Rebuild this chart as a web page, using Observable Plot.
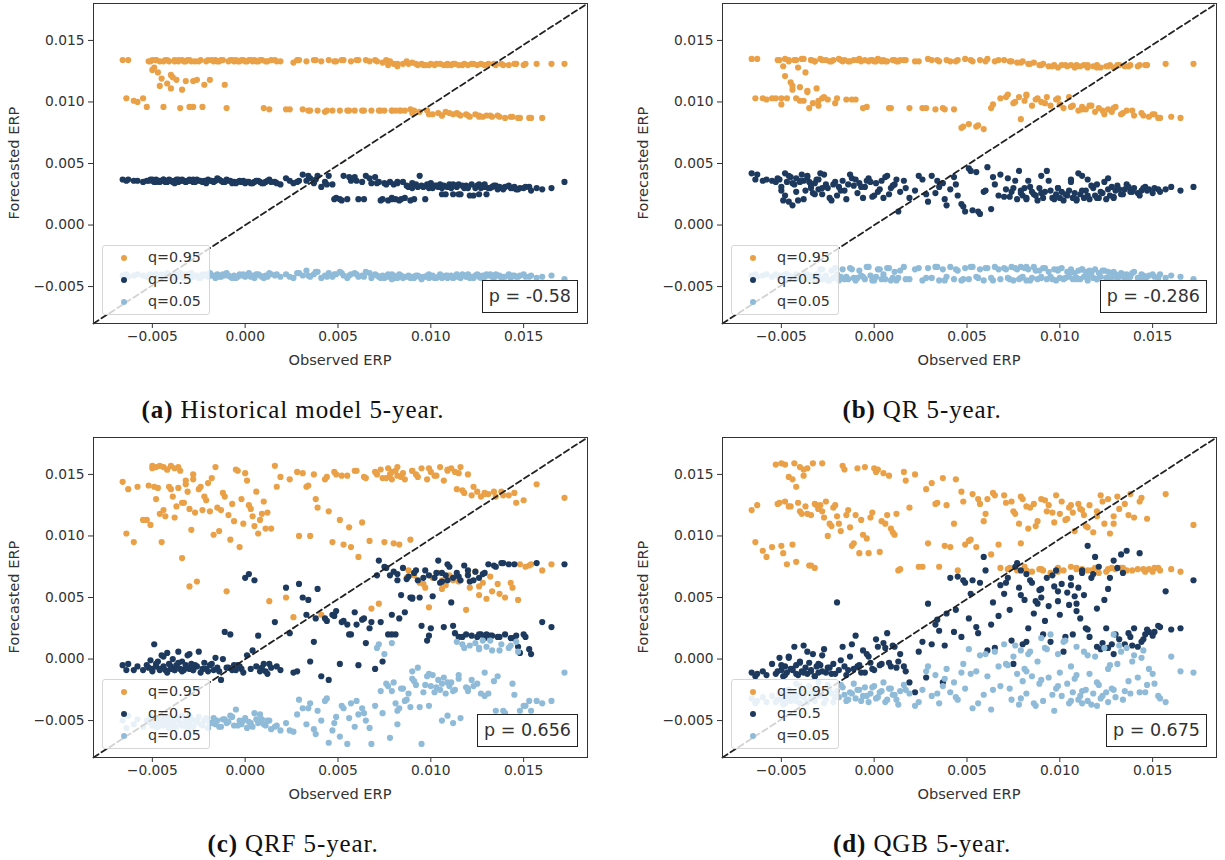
<!DOCTYPE html>
<html><head><meta charset="utf-8">
<script src="https://cdn.jsdelivr.net/npm/d3@7"></script>
<script src="https://cdn.jsdelivr.net/npm/@observablehq/plot@0.6"></script>
<style>
body{margin:0;background:#fff;width:1225px;height:860px;position:relative;overflow:hidden;font-family:"DejaVu Sans",sans-serif;}
.panel{position:absolute;width:600px;height:430px;}
.panel svg{position:absolute;left:0;top:0;overflow:visible;}
.panel svg text{font-family:"DejaVu Sans",sans-serif !important;font-size:13.8px !important;fill:#333;}
.axlab{position:absolute;font-size:14.6px;color:#333;white-space:nowrap;transform:translate(-50%,-50%);}
.ylab{transform:translate(-50%,-50%) rotate(-90deg);}
.legend{position:absolute;left:102px;top:245px;width:106px;height:68px;border:1px solid #d6d6d6;border-radius:3px;background:rgba(255,255,255,0.8);}
.legend .row{position:absolute;left:0;height:20px;width:100%;}
.legend .mk{position:absolute;left:18px;top:7px;width:6px;height:6px;border-radius:50%;}
.legend .tx{position:absolute;left:45px;top:0px;font-size:14.3px;color:#333;line-height:19px;}
.pbox{position:absolute;top:280px;height:31px;border:1.3px solid #222;background:#fff;font-size:17.5px;line-height:31px;padding:0 6px;color:#333;}
.caption{position:absolute;font-family:"Liberation Serif",serif;font-size:25px;letter-spacing:0.9px;color:#111;white-space:nowrap;transform:translate(-50%,-50%);}
#err{position:absolute;left:0;top:0;color:red;font-size:10px;}
</style></head><body>
<div id="err"></div>
<script>
// Observed ERP (shared by all panels)
const obsERP = [
-.0066,-.0064,-.0063,-.0060,-.0058,
-.0055,-.0053,-.0051,-.0050,-.0049,-.0048,-.0047,-.0046,-.0045,
-.0044,-.0043,-.0042,-.0041,-.0040,-.0039,-.0038,-.0037,-.0036,-.0035,-.0034,-.0033,-.0032,-.0031,-.0030,
-.0029,-.0028,-.0026,-.0025,-.0023,-.0022,-.0020,-.0019,-.0017,-.0016,-.0015,
-.0013,-.0011,-.0010,-.0008,-.0006,-.0005,-.0003,-.0002,.0000,
.0002,.0004,.0005,.0007,.0009,.0011,.0013,
.0016,.0019,.0022,.0026,.0029,
.0031,.0033,.0035,.0037,.0039,.0041,.0043,.0045,.0047,.0049,
.0051,.0053,.0055,.0057,.0059,.0061,.0063,.0065,.0068,
.0070,.0072,.0074,.0075,.0077,.0078,.0079,.0080,.0081,.0082,.0083,.0085,.0086,.0088,.0089,
.0090,.0091,.0093,.0094,.0095,.0097,.0098,.0099,.0100,.0101,.0102,.0104,.0105,.0106,.0107,.0108,.0109,.0110,
.0111,.0112,.0113,.0114,.0115,.0116,.0118,.0119,.0120,.0121,.0122,.0124,.0125,.0126,.0127,.0128,.0129,.0130,
.0131,.0133,.0135,.0136,.0138,.0140,.0142,.0144,.0146,.0148,
.0151,.0154,.0157,.0160,.0165,.0172,
// second batch
-.0052,-.0050,-.0048,-.0046,-.0044,-.0042,-.0040,-.0038,-.0036,-.0034,-.0032,-.0030,-.0028,-.0027,-.0024,
-.0021,-.0018,-.0014,-.0012,-.0009,-.0007,-.0004,-.0001,.0001,.0003,.0006,.0008,.0010,.0012,.0014,
.0017,.0024,.0028,.0034,.0038,.0044,.0048,.0052,.0056,.0060,.0064,.0067,
.0071,.0073,.0076,.0079,.0082,.0084,.0087,.0090,.0092,.0096,.0099,.0103,.0106,.0109,.0112,
.0115,.0117,.0120,.0123,.0126,.0129,.0132,.0134,.0137,.0139,.0143,.0145,.0147,.0150,.0153];

// (a) Historical model
const histQ95 = [
.0134,.0103,.0134,.0101,.0100,
.0103,.0096,.0133,.0134,.0128,.0134,.0124,.0133,.0119,
.0096,.0134,.0115,.0133,.0111,.0120,.0134,.0118,.0133,.0095,.0134,.0133,.0117,.0134,.0096,
.0133,.0117,.0118,.0133,.0096,.0114,.0134,.0118,.0133,.0134,.0133,
.0134,.0114,.0095,.0134,.0133,.0134,.0133,.0134,.0133,
.0134,.0133,.0134,.0133,.0134,.0133,.0094,
.0134,.0133,.0094,.0132,.0134,
.0094,.0133,.0093,.0134,.0093,.0133,.0092,.0134,.0093,.0133,
.0093,.0134,.0093,.0133,.0093,.0134,.0093,.0134,.0093,
.0134,.0093,.0132,.0093,.0130,.0133,.0093,.0131,.0093,.0129,.0093,.0131,.0093,.0131,.0094,
.0132,.0093,.0130,.0092,.0131,.0130,.0093,.0130,.0131,.0090,.0130,.0091,.0131,.0089,.0130,.0092,.0131,.0091,
.0130,.0090,.0131,.0091,.0130,.0089,.0131,.0090,.0130,.0088,.0131,.0090,.0130,.0089,.0131,.0088,.0130,.0089,
.0131,.0088,.0130,.0089,.0131,.0087,.0130,.0088,.0131,.0087,
.0131,.0087,.0131,.0087,.0131,.0131,
.0133,.0126,.0134,.0113,.0133,.0134,.0122,.0133,.0134,.0110,.0133,.0134,.0096,.0133,.0134,
.0133,.0134,.0133,.0134,.0133,.0134,.0133,.0134,.0133,.0134,.0133,.0134,.0095,.0133,.0134,
.0133,.0094,.0134,.0093,.0134,.0093,.0133,.0134,.0093,.0134,.0093,.0133,
.0133,.0093,.0134,.0093,.0131,.0093,.0133,.0091,.0131,.0130,.0090,.0131,.0089,.0130,.0131,
.0090,.0130,.0089,.0131,.0088,.0130,.0089,.0131,.0088,.0130,.0088,.0131,.0087,.0130,.0087];
const histQ50 = [
.0037,.0036,.0037,.0036,.0036,
.0035,.0036,.0037,.0036,.0035,.0037,.0036,.0035,.0036,
.0037,.0035,.0036,.0037,.0036,.0035,.0036,.0037,.0035,.0036,.0037,.0036,.0035,.0036,.0037,
.0036,.0035,.0037,.0036,.0035,.0036,.0037,.0036,.0035,.0036,.0038,
.0036,.0035,.0037,.0036,.0035,.0034,.0036,.0035,.0034,
.0035,.0034,.0035,.0036,.0034,.0035,.0037,
.0035,.0033,.0038,.0034,.0036,
.0041,.0036,.0038,.0034,.0040,.0031,.0035,.0040,.0033,.0022,
.0021,.0040,.0021,.0036,.0039,.0021,.0035,.0040,.0034,
.0039,.0035,.0021,.0034,.0020,.0035,.0022,.0033,.0021,.0034,.0020,.0035,.0022,.0031,.0020,
.0034,.0021,.0031,.0040,.0032,.0021,.0033,.0031,.0034,.0030,.0032,.0031,.0033,.0030,.0032,.0025,.0031,.0033,
.0030,.0025,.0032,.0031,.0033,.0025,.0030,.0032,.0031,.0024,.0033,.0030,.0032,.0025,.0030,.0031,.0033,.0025,
.0030,.0031,.0032,.0029,.0030,.0031,.0032,.0030,.0029,.0030,
.0031,.0028,.0030,.0029,.0030,.0035,
.0036,.0037,.0035,.0036,.0037,.0035,.0036,.0034,.0037,.0036,.0035,.0036,.0037,.0035,.0036,
.0034,.0036,.0037,.0035,.0036,.0034,.0035,.0036,.0035,.0034,.0036,.0035,.0034,.0036,.0035,
.0034,.0036,.0035,.0040,.0037,.0033,.0021,.0020,.0039,.0036,.0021,.0038,
.0034,.0020,.0033,.0021,.0035,.0021,.0032,.0030,.0033,.0031,.0030,.0032,.0025,.0031,.0033,
.0025,.0032,.0030,.0024,.0033,.0031,.0030,.0032,.0031,.0029,.0030,.0031,.0029,.0030,.0031];
const histQ05 = [
-.0041,-.0040,-.0042,-.0041,-.0040,
-.0041,-.0042,-.0040,-.0041,-.0043,-.0040,-.0042,-.0041,-.0040,
-.0042,-.0041,-.0039,-.0042,-.0041,-.0043,-.0040,-.0041,-.0042,-.0039,-.0041,-.0043,-.0040,-.0042,-.0041,
-.0039,-.0042,-.0041,-.0043,-.0040,-.0041,-.0042,-.0039,-.0041,-.0043,-.0040,
-.0042,-.0041,-.0039,-.0042,-.0041,-.0043,-.0040,-.0041,-.0042,
-.0039,-.0041,-.0043,-.0040,-.0042,-.0041,-.0039,
-.0041,-.0042,-.0040,-.0043,-.0039,
-.0041,-.0037,-.0042,-.0040,-.0038,-.0043,-.0041,-.0039,-.0042,-.0040,
-.0038,-.0041,-.0043,-.0040,-.0039,-.0042,-.0041,-.0038,-.0043,
-.0040,-.0042,-.0041,-.0043,-.0040,-.0042,-.0044,-.0041,-.0043,-.0042,-.0040,-.0043,-.0042,-.0041,-.0043,
-.0042,-.0043,-.0041,-.0042,-.0044,-.0042,-.0041,-.0043,-.0042,-.0041,-.0043,-.0042,-.0040,-.0043,-.0042,-.0041,-.0043,-.0042,
-.0041,-.0043,-.0042,-.0040,-.0042,-.0043,-.0041,-.0042,-.0040,-.0043,-.0042,-.0041,-.0040,-.0042,-.0043,-.0041,-.0042,-.0040,
-.0041,-.0042,-.0040,-.0041,-.0043,-.0042,-.0040,-.0041,-.0042,-.0041,
-.0042,-.0041,-.0043,-.0042,-.0041,-.0044,
-.0041,-.0042,-.0040,-.0041,-.0042,-.0040,-.0041,-.0043,-.0040,-.0042,-.0041,-.0040,-.0042,-.0041,-.0043,
-.0040,-.0041,-.0042,-.0040,-.0041,-.0043,-.0042,-.0040,-.0041,-.0042,-.0040,-.0041,-.0043,-.0042,-.0040,
-.0040,-.0042,-.0039,-.0041,-.0038,-.0042,-.0040,-.0039,-.0041,-.0040,-.0042,-.0039,
-.0041,-.0043,-.0042,-.0040,-.0043,-.0041,-.0042,-.0043,-.0041,-.0042,-.0040,-.0043,-.0042,-.0041,-.0043,
-.0042,-.0040,-.0042,-.0043,-.0041,-.0042,-.0040,-.0043,-.0041,-.0042,-.0043,-.0041,-.0042,-.0040,-.0042];

// (b) QR
const qrQ95 = [
.0135,.0103,.0135,.0103,.0102,
.0103,.0103,.0134,.0098,.0129,.0135,.0103,.0133,.0116,
.0110,.0134,.0103,.0128,.0112,.0135,.0101,.0124,.0109,.0095,.0134,.0099,.0133,.0111,.0101,
.0135,.0103,.0134,.0102,.0133,.0134,.0103,.0135,.0133,.0134,.0102,
.0133,.0134,.0102,.0135,.0095,.0134,.0133,.0134,.0133,
.0135,.0133,.0134,.0133,.0095,.0134,.0133,
.0134,.0095,.0133,.0095,.0135,
.0134,.0094,.0133,.0095,.0134,.0133,.0094,.0134,.0079,.0135,
.0082,.0133,.0080,.0134,.0078,.0135,.0095,.0133,.0103,
.0134,.0106,.0133,.0099,.0132,.0104,.0086,.0133,.0101,.0106,.0131,.0097,.0132,.0103,.0130,
.0100,.0131,.0104,.0129,.0097,.0130,.0102,.0128,.0098,.0130,.0095,.0129,.0104,.0130,.0097,.0128,.0130,.0093,
.0129,.0096,.0130,.0094,.0128,.0097,.0129,.0092,.0130,.0095,.0128,.0090,.0129,.0094,.0130,.0092,.0128,.0096,
.0130,.0090,.0129,.0093,.0130,.0089,.0129,.0091,.0130,.0088,
.0090,.0087,.0131,.0088,.0087,.0131,
.0134,.0103,.0121,.0134,.0113,.0134,.0101,.0135,.0108,.0134,.0133,.0097,.0134,.0104,.0133,
.0099,.0134,.0133,.0102,.0134,.0133,.0096,.0134,.0133,.0134,.0133,.0095,.0134,.0133,.0134,
.0134,.0133,.0095,.0134,.0094,.0133,.0080,.0134,.0081,.0133,.0098,.0134,
.0104,.0133,.0100,.0132,.0105,.0131,.0102,.0130,.0099,.0129,.0103,.0130,.0096,.0129,.0094,
.0130,.0097,.0128,.0093,.0129,.0095,.0130,.0091,.0129,.0093,.0130,.0089,.0130,.0090,.0087];
const qrQ50 = [
.0042,.0037,.0041,.0036,.0037,
.0036,.0035,.0037,.0028,.0020,.0042,.0035,.0019,.0039,
.0016,.0033,.0038,.0020,.0035,.0041,.0036,.0028,.0040,.0035,.0030,.0026,.0034,.0037,.0029,
.0042,.0025,.0033,.0030,.0020,.0033,.0024,.0031,.0036,.0028,.0021,
.0041,.0032,.0037,.0034,.0022,.0031,.0038,.0035,.0024,
.0027,.0036,.0022,.0040,.0030,.0033,.0011,
.0036,.0022,.0028,.0037,.0019,
.0040,.0026,.0031,.0034,.0016,.0029,.0039,.0024,.0017,.0011,
.0046,.0012,.0043,.0009,.0027,.0047,.0013,.0033,.0041,
.0023,.0038,.0027,.0030,.0021,.0044,.0028,.0024,.0030,.0022,.0036,.0027,.0025,.0020,.0030,
.0026,.0022,.0044,.0036,.0028,.0021,.0025,.0030,.0022,.0027,.0020,.0024,.0028,.0035,.0022,.0026,.0020,.0042,
.0025,.0040,.0022,.0028,.0037,.0021,.0030,.0024,.0033,.0022,.0027,.0035,.0021,.0029,.0024,.0031,.0022,.0028,
.0032,.0025,.0029,.0033,.0027,.0030,.0026,.0028,.0031,.0029,
.0030,.0027,.0029,.0031,.0028,.0031,
.0038,.0031,.0024,.0040,.0034,.0027,.0036,.0021,.0039,.0032,.0025,.0037,.0030,.0041,.0022,
.0035,.0028,.0033,.0038,.0026,.0031,.0036,.0023,.0034,.0029,.0039,.0025,.0032,.0037,.0027,
.0030,.0040,.0025,.0036,.0021,.0033,.0015,.0044,.0011,.0028,.0039,.0024,
.0029,.0023,.0036,.0026,.0021,.0031,.0024,.0040,.0027,.0022,.0030,.0025,.0037,.0021,.0028,
.0024,.0032,.0022,.0026,.0038,.0023,.0029,.0025,.0031,.0027,.0024,.0030,.0028,.0026,.0029];
const qrQ05 = [
-.0041,-.0040,-.0042,-.0041,-.0040,
-.0042,-.0040,-.0043,-.0041,-.0042,-.0044,-.0040,-.0041,-.0043,
-.0042,-.0044,-.0040,-.0043,-.0041,-.0045,-.0042,-.0040,-.0044,-.0043,-.0041,-.0042,-.0045,-.0040,-.0043,
-.0036,-.0044,-.0041,-.0045,-.0037,-.0043,-.0040,-.0045,-.0036,-.0044,-.0042,
-.0035,-.0043,-.0045,-.0037,-.0042,-.0044,-.0034,-.0041,-.0045,
-.0036,-.0044,-.0040,-.0035,-.0045,-.0038,-.0043,
-.0034,-.0044,-.0036,-.0045,-.0035,
-.0043,-.0034,-.0045,-.0036,-.0042,-.0034,-.0044,-.0037,-.0045,-.0035,
-.0044,-.0034,-.0042,-.0036,-.0045,-.0035,-.0043,-.0034,-.0044,
-.0035,-.0043,-.0034,-.0045,-.0036,-.0044,-.0034,-.0042,-.0035,-.0045,-.0036,-.0043,-.0034,-.0044,-.0037,
-.0043,-.0035,-.0044,-.0038,-.0042,-.0036,-.0045,-.0037,-.0043,-.0035,-.0044,-.0038,-.0042,-.0036,-.0044,-.0039,-.0043,-.0037,
-.0044,-.0036,-.0042,-.0038,-.0045,-.0037,-.0043,-.0036,-.0044,-.0039,-.0042,-.0037,-.0043,-.0038,-.0044,-.0039,-.0042,-.0040,
-.0043,-.0039,-.0044,-.0040,-.0042,-.0038,-.0043,-.0040,-.0044,-.0041,
-.0042,-.0040,-.0043,-.0041,-.0042,-.0044,
-.0041,-.0043,-.0040,-.0044,-.0042,-.0041,-.0043,-.0045,-.0040,-.0042,-.0044,-.0041,-.0036,-.0043,-.0045,
-.0035,-.0042,-.0044,-.0036,-.0043,-.0041,-.0034,-.0045,-.0042,-.0036,-.0044,-.0035,-.0043,-.0045,-.0037,
-.0044,-.0035,-.0043,-.0034,-.0045,-.0036,-.0044,-.0034,-.0043,-.0035,-.0045,-.0036,
-.0036,-.0044,-.0035,-.0043,-.0034,-.0045,-.0037,-.0042,-.0035,-.0044,-.0036,-.0043,-.0038,-.0044,-.0036,
-.0042,-.0039,-.0044,-.0037,-.0043,-.0038,-.0042,-.0040,-.0044,-.0039,-.0043,-.0041,-.0042,-.0040,-.0043];

// (c) QRF
const qrfQ95 = [
.0144,.0102,.0138,.0095,.0140,
.0113,.0113,.0109,.0157,.0140,.0156,.0139,.0118,.0095,
.0156,.0116,.0154,.0140,.0157,.0132,.0155,.0124,.0139,.0153,.0082,.0127,.0145,.0136,.0059,
.0105,.0146,.0063,.0138,.0121,.0132,.0143,.0120,.0101,.0156,.0123,
.0121,.0132,.0055,.0097,.0112,.0154,.0091,.0130,.0151,
.0125,.0116,.0108,.0102,.0118,.0106,.0047,
.0157,.0148,.0050,.0034,.0100,
.0151,.0140,.0100,.0150,.0123,.0036,.0146,.0120,.0095,.0150,
.0113,.0093,.0149,.0091,.0153,.0083,.0111,.0147,.0041,
.0152,.0045,.0147,.0095,.0155,.0150,.0146,.0094,.0153,.0149,.0093,.0151,.0146,.0072,.0097,
.0153,.0068,.0148,.0062,.0155,.0058,.0146,.0042,.0152,.0066,.0149,.0070,.0156,.0064,.0145,.0060,.0153,.0068,
.0155,.0066,.0152,.0138,.0063,.0156,.0135,.0040,.0150,.0058,.0133,.0071,.0136,.0052,.0132,.0062,.0135,.0049,
.0134,.0055,.0132,.0061,.0136,.0050,.0133,.0058,.0127,.0077,
.0075,.0077,.0142,.0072,.0077,.0131,
.0141,.0155,.0130,.0157,.0121,.0154,.0138,.0115,.0156,.0127,.0142,.0122,.0150,.0119,.0140,
.0129,.0147,.0104,.0135,.0117,.0126,.0153,.0110,.0145,.0122,.0136,.0113,.0128,.0119,.0106,
.0140,.0146,.0152,.0141,.0130,.0148,.0152,.0149,.0107,.0153,.0148,.0096,
.0150,.0154,.0147,.0152,.0156,.0148,.0066,.0153,.0150,.0061,.0155,.0149,.0057,.0154,.0064,
.0151,.0137,.0069,.0140,.0059,.0134,.0067,.0136,.0053,.0133,.0062,.0135,.0048,.0129,.0076];
const qrfQ50 = [
-.0005,-.0009,-.0004,-.0009,-.0006,
-.0009,-.0005,-.0001,-.0008,.0012,-.0006,-.0002,-.0009,.0003,
-.0006,-.0009,.0005,-.0004,-.0008,.0000,-.0009,-.0005,.0006,-.0008,-.0002,-.0009,-.0005,.0003,-.0008,
-.0004,-.0009,-.0006,.0006,-.0008,-.0003,-.0010,-.0005,-.0009,.0001,-.0007,
-.0017,.0022,-.0007,.0020,-.0005,-.0009,-.0006,-.0008,.0066,
.0069,.0007,.0064,.0019,-.0007,-.0010,-.0004,
.0030,-.0009,.0058,-.0011,.0061,
.0050,.0036,-.0002,.0014,.0057,-.0014,.0033,-.0017,.0036,.0039,
-.0004,.0031,.0028,.0020,.0038,-.0005,.0032,.0013,.0030,
-.0008,.0080,-.0002,.0075,.0020,.0068,.0036,.0071,.0020,.0064,.0033,.0074,.0038,.0067,.0050,
.0049,.0070,.0064,.0050,.0027,.0072,.0015,.0068,.0025,.0051,.0066,.0080,.0062,.0070,.0026,.0068,.0064,.0075,
.0046,.0066,.0021,.0070,.0018,.0064,.0076,.0020,.0068,.0063,.0019,.0071,.0018,.0066,.0020,.0069,.0017,.0020,
.0077,.0019,.0075,.0018,.0078,.0020,.0077,.0017,.0019,.0005,
.0018,.0004,.0078,.0030,.0026,.0077,
-.0007,-.0010,-.0004,-.0008,.0002,-.0011,-.0006,-.0009,-.0003,-.0010,-.0007,.0004,-.0009,-.0005,-.0011,
-.0008,-.0004,-.0010,.0000,-.0007,-.0009,-.0005,-.0011,.0003,-.0008,-.0006,-.0010,-.0004,-.0012,-.0007,
-.0006,.0021,-.0010,.0048,.0033,.0031,.0035,.0030,.0020,.0028,.0033,.0025,
.0068,.0030,.0074,.0020,.0069,.0052,.0065,.0050,.0072,.0066,.0019,.0070,.0063,.0077,.0027,
.0067,.0018,.0072,.0064,.0020,.0070,.0019,.0076,.0018,.0078,.0017,.0077,.0010,.0020,.0008];
const qrfQ05 = [
-.0050,-.0056,-.0046,-.0053,-.0049,
-.0055,-.0050,-.0047,-.0054,-.0051,-.0048,-.0055,-.0052,-.0049,
-.0054,-.0047,-.0051,-.0056,-.0049,-.0053,-.0050,-.0055,-.0048,-.0052,-.0046,-.0054,-.0050,-.0056,-.0052,
-.0049,-.0055,-.0051,-.0047,-.0054,-.0050,-.0056,-.0052,-.0048,-.0053,-.0050,
-.0055,-.0049,-.0052,-.0046,-.0054,-.0041,-.0050,-.0053,-.0048,
-.0051,-.0055,-.0044,-.0052,-.0049,-.0054,-.0050,
-.0055,-.0058,-.0052,-.0059,-.0033,
-.0040,-.0053,-.0036,-.0057,-.0042,-.0050,-.0034,-.0068,-.0058,-.0047,
-.0063,-.0040,-.0069,-.0036,-.0055,-.0045,-.0040,-.0050,-.0069,
-.0038,.0012,-.0044,.0004,-.0022,-.0064,-.0026,-.0019,-.0036,-.0053,-.0040,-.0024,-.0034,-.0028,-.0039,
-.0010,-.0018,-.0007,-.0039,-.0069,-.0021,-.0014,-.0038,-.0022,-.0013,-.0027,-.0017,-.0025,-.0020,-.0015,-.0028,-.0046,-.0022,
-.0019,-.0052,-.0025,.0014,-.0013,-.0048,.0009,-.0023,-.0026,.0011,-.0017,.0013,-.0020,.0008,-.0028,.0015,-.0011,.0010,
-.0028,.0007,-.0042,-.0014,.0012,-.0044,.0009,-.0020,.0014,-.0042,
-.0038,-.0042,-.0034,-.0036,-.0034,-.0011,
-.0051,-.0048,-.0055,-.0050,-.0053,-.0047,-.0052,-.0056,-.0049,-.0054,-.0051,-.0046,-.0055,-.0050,-.0053,
-.0048,-.0052,-.0055,-.0049,-.0051,-.0047,-.0054,-.0050,-.0056,-.0052,-.0049,-.0045,-.0053,-.0050,-.0057,
-.0054,-.0058,-.0045,-.0040,-.0061,-.0032,-.0052,-.0038,-.0048,-.0034,-.0044,-.0056,
.0009,-.0026,-.0020,.0013,-.0042,-.0024,-.0033,-.0016,-.0021,-.0027,-.0012,-.0023,-.0050,-.0019,-.0026,
-.0016,.0012,-.0024,-.0022,.0009,-.0030,.0015,-.0018,.0007,-.0042,.0011,-.0029,.0006,-.0038,-.0034];

// (d) QGB
const qgbQ95 = [
.0121,.0095,.0125,.0088,.0083,
.0091,.0158,.0127,.0159,.0086,.0128,.0077,.0148,.0124,
.0093,.0159,.0140,.0127,.0156,.0118,.0149,.0124,.0155,.0076,.0117,.0159,.0074,.0125,.0122,
.0125,.0120,.0128,.0100,.0108,.0123,.0116,.0110,.0157,.0154,.0117,
.0107,.0094,.0117,.0086,.0101,.0156,.0086,.0115,.0155,
.0154,.0112,.0151,.0117,.0106,.0101,.0072,
.0152,.0123,.0150,.0075,.0094,
.0143,.0126,.0075,.0147,.0125,.0091,.0110,.0072,.0136,.0093,
.0096,.0134,.0091,.0126,.0112,.0130,.0085,.0133,.0074,
.0133,.0073,.0128,.0120,.0072,.0110,.0094,.0130,.0075,.0124,.0106,.0071,.0126,.0112,.0073,
.0130,.0072,.0120,.0125,.0070,.0111,.0133,.0074,.0118,.0128,.0072,.0114,.0123,.0075,.0119,.0104,.0073,.0126,
.0122,.0073,.0117,.0108,.0072,.0125,.0103,.0074,.0120,.0070,.0133,.0110,.0071,.0130,.0102,.0074,.0116,.0073,
.0132,.0074,.0126,.0072,.0134,.0115,.0073,.0131,.0071,.0073,
.0074,.0072,.0134,.0073,.0071,.0109,
.0126,.0092,.0158,.0124,.0146,.0079,.0120,.0154,.0118,.0076,.0126,.0122,.0159,.0115,.0110,
.0125,.0104,.0121,.0092,.0155,.0113,.0098,.0119,.0152,.0087,.0110,.0149,.0103,.0118,.0073,
.0145,.0075,.0138,.0127,.0092,.0146,.0128,.0097,.0130,.0118,.0135,.0093,
.0127,.0074,.0118,.0132,.0072,.0123,.0108,.0073,.0129,.0119,.0071,.0113,.0125,.0074,.0121,
.0107,.0072,.0116,.0128,.0073,.0110,.0122,.0074,.0117,.0072,.0128,.0073,.0114,.0071,.0074];
const qgbQ50 = [
-.0011,-.0014,-.0012,-.0010,-.0013,
-.0004,-.0012,.0001,-.0009,-.0014,-.0006,-.0011,.0002,-.0008,
-.0009,.0010,-.0005,-.0013,-.0002,-.0010,.0011,-.0007,-.0012,-.0003,-.0010,.0004,-.0014,-.0006,-.0011,
-.0005,.0003,-.0011,-.0007,-.0012,-.0004,.0046,-.0009,.0010,-.0006,-.0013,
.0002,-.0008,.0019,-.0005,.0007,-.0011,.0002,-.0003,-.0009,
.0010,-.0004,.0013,.0021,-.0006,.0010,-.0002,
-.0006,-.0019,-.0027,.0014,.0045,
.0012,.0028,.0023,-.0019,.0037,.0066,.0022,.0067,.0018,.0062,
.0033,.0064,.0026,.0062,.0083,.0007,.0028,.0009,.0060,
.0053,.0066,.0015,-.0004,.0078,.0058,.0072,.0012,.0048,.0069,.0025,.0062,.0037,.0045,.0056,
.0050,.0020,.0066,.0043,.0014,.0059,.0072,.0047,.0036,.0061,.0006,.0054,.0044,.0066,.0020,.0051,.0039,.0058,
.0033,.0070,.0052,.0025,.0092,.0018,.0069,.0083,.0010,.0075,.0008,.0048,.0025,.0009,.0066,.0012,.0004,.0020,
.0074,.0085,.0012,.0088,.0018,.0025,.0010,.0014,.0020,.0022,
.0022,.0026,.0055,.0024,.0025,.0064,
-.0010,-.0005,-.0013,.0001,-.0008,-.0012,-.0003,-.0011,.0006,-.0009,-.0014,-.0004,-.0010,.0008,-.0007,
-.0012,-.0001,-.0009,.0012,-.0006,-.0011,.0004,-.0008,.0016,-.0005,.0009,-.0003,.0011,-.0007,.0004,
-.0010,.0006,-.0015,.0032,.0011,.0040,.0064,.0053,.0021,.0072,.0046,.0035,
.0062,.0040,.0075,.0052,.0014,.0064,.0047,.0057,.0031,.0068,.0055,.0018,.0060,.0045,.0072,
.0024,.0066,.0041,.0013,.0057,.0080,.0016,.0070,.0021,.0011,.0086,.0016,.0024,.0019,.0027];
const qgbQ05 = [
-.0032,-.0036,-.0034,-.0031,-.0035,
-.0030,-.0035,-.0028,-.0033,-.0037,-.0026,-.0032,-.0029,-.0034,
-.0027,-.0033,-.0020,-.0030,-.0036,-.0024,-.0031,-.0028,-.0035,-.0022,-.0032,-.0026,-.0034,-.0029,-.0019,
-.0030,-.0025,-.0033,-.0021,-.0028,-.0035,-.0026,-.0031,-.0023,-.0029,-.0034,
-.0027,-.0020,-.0032,-.0025,-.0030,-.0023,-.0035,-.0028,-.0022,
-.0031,-.0026,-.0019,-.0033,-.0024,-.0029,-.0037,
-.0021,-.0028,-.0038,-.0025,-.0006,
-.0030,-.0013,-.0036,-.0022,-.0008,-.0027,-.0019,-.0033,-.0011,-.0024,
.0008,-.0040,-.0010,.0003,-.0029,-.0014,-.0041,.0006,-.0022,
.0012,-.0005,-.0033,.0002,-.0012,-.0037,.0007,-.0018,-.0008,-.0028,.0004,-.0014,-.0036,-.0002,-.0020,
.0017,-.0034,.0008,-.0015,.0020,-.0042,-.0024,.0004,-.0011,-.0030,.0014,-.0020,-.0036,-.0006,-.0027,-.0016,.0010,-.0033,
-.0030,-.0036,.0006,-.0025,-.0034,-.0012,-.0028,.0002,-.0038,-.0021,-.0032,.0009,-.0027,-.0035,-.0005,-.0024,.0020,-.0031,
-.0004,.0006,-.0026,.0009,-.0028,.0003,-.0015,.0001,-.0027,-.0008,
-.0020,-.0032,-.0035,.0002,-.0010,-.0011,
-.0033,-.0028,-.0036,-.0025,-.0031,-.0034,-.0022,-.0030,-.0035,-.0027,-.0032,-.0024,-.0029,-.0036,-.0026,
-.0031,-.0021,-.0033,-.0028,-.0025,-.0034,-.0030,-.0023,-.0032,-.0027,-.0035,-.0024,-.0029,-.0033,-.0026,
-.0025,-.0035,-.0010,-.0028,-.0016,-.0031,-.0004,-.0012,-.0036,.0004,-.0025,-.0006,
-.0004,-.0024,.0011,-.0032,-.0010,.0006,-.0038,-.0017,.0009,-.0029,-.0022,.0015,-.0034,-.0013,-.0026,
.0003,-.0037,-.0019,-.0030,-.0008,-.0025,.0011,-.0033,-.0018,-.0002,-.0027,.0007,-.0021,-.0012,-.0030];

const xTicks = [-0.005, 0.000, 0.005, 0.010, 0.015];
const yTicks = [-0.005, 0.000, 0.005, 0.010, 0.015];
const xDomain = [-0.00817, 0.01844];
const yDomain = [-0.0080, 0.0180];
const seriesNames = ["q=0.95", "q=0.5", "q=0.05"];
const colors = ["#EAA046", "#1D395E", "#8FBBD9"];

const panels = [
  {tag: "(a)", title: "Historical model 5-year.", p: "p = -0.58", ys: [histQ95, histQ50, histQ05], left: 0, top: 0},
  {tag: "(b)", title: "QR 5-year.", p: "p = -0.286", ys: [qrQ95, qrQ50, qrQ05], left: 629, top: 0},
  {tag: "(c)", title: "QRF 5-year.", p: "p = 0.656", ys: [qrfQ95, qrfQ50, qrfQ05], left: 0, top: 434},
  {tag: "(d)", title: "QGB 5-year.", p: "p = 0.675", ys: [qgbQ95, qgbQ50, qgbQ05], left: 629, top: 434}
];

const fmt = d3.format(".3f");
const errs = [];

for (const pn of panels) {
  pn.ys.forEach((ys, k) => { if (ys.length !== obsERP.length) errs.push(pn.tag + k + ":" + ys.length + "/" + obsERP.length); });
  const div = document.createElement("div");
  div.className = "panel";
  div.style.left = pn.left + "px";
  div.style.top = pn.top + "px";
  document.body.appendChild(div);

  const diag = [{x: xDomain[0], y: yDomain[0]}, {x: xDomain[1], y: yDomain[1]}];
  const dotMarks = pn.ys.map((ys, k) =>
    Plot.dot(obsERP.map((x, i) => ({x, y: ys[i]})).filter(d => d.y !== undefined),
      {x: "x", y: "y", r: 3.1, fill: colors[k], stroke: "none"}));

  const chart = Plot.plot({
    width: 600, height: 365,
    marginLeft: 93, marginRight: 13, marginTop: 3, marginBottom: 42,
    style: {fontFamily: "DejaVu Sans", fontSize: "14px", color: "#333", background: "transparent", overflow: "visible"},
    x: {domain: xDomain, label: null},
    y: {domain: yDomain, label: null},
    marks: [
      ...dotMarks,
      Plot.line(diag, {x: "x", y: "y", stroke: "#222", strokeWidth: 1.8, strokeDasharray: "6,3.5"}),
      Plot.axisX({ticks: xTicks, tickFormat: fmt, tickSize: 5, tickPadding: 3, label: null, stroke: "#333"}),
      Plot.axisY({ticks: yTicks, tickFormat: fmt, tickSize: 5, tickPadding: 4, label: null, stroke: "#333"}),
      Plot.frame({stroke: "#333", strokeWidth: 1})
    ]
  });
  div.appendChild(chart);

  const xl = document.createElement("div");
  xl.className = "axlab"; xl.textContent = "Observed ERP";
  xl.style.left = "340px"; xl.style.top = "359px";
  div.appendChild(xl);
  const yl = document.createElement("div");
  yl.className = "axlab ylab"; yl.textContent = "Forecasted ERP";
  yl.style.left = "13px"; yl.style.top = "163px";
  div.appendChild(yl);

  const lg = document.createElement("div");
  lg.className = "legend";
  seriesNames.forEach((s, k) => {
    const row = document.createElement("div");
    row.className = "row"; row.style.top = (2 + k * 22) + "px";
    const mk = document.createElement("span"); mk.className = "mk"; mk.style.background = colors[k];
    const tx = document.createElement("span"); tx.className = "tx"; tx.textContent = s;
    row.appendChild(mk); row.appendChild(tx); lg.appendChild(row);
  });
  div.appendChild(lg);

  const pb = document.createElement("div");
  pb.className = "pbox"; pb.textContent = pn.p;
  pb.style.right = "22px";
  div.appendChild(pb);

  const cap = document.createElement("div");
  cap.className = "caption";
  cap.innerHTML = "<b>" + pn.tag + "</b> " + pn.title;
  cap.style.left = "293px"; cap.style.top = "410px";
  div.appendChild(cap);
}
if (errs.length) document.getElementById("err").textContent = errs.join(" ");
</script>
</body></html>
